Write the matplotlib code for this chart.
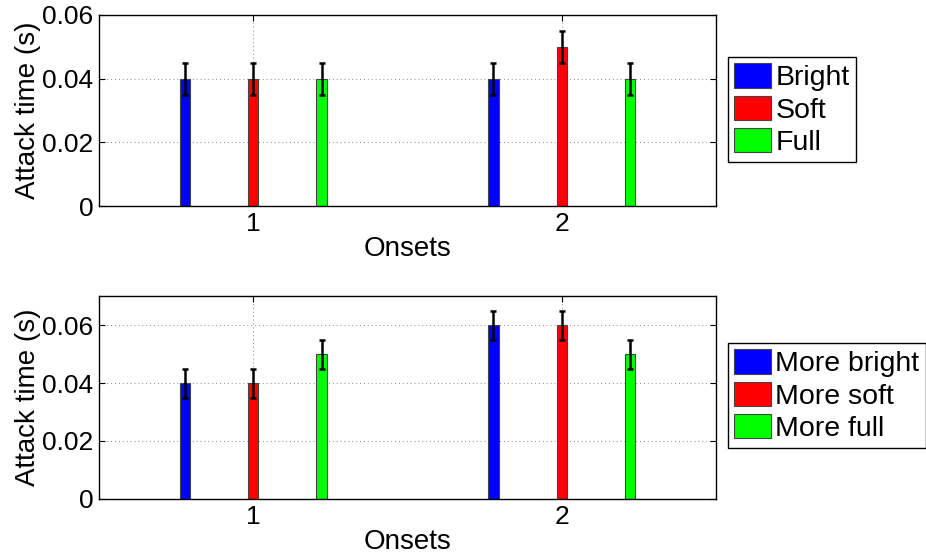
import matplotlib
matplotlib.use("Agg")
import matplotlib.pyplot as plt
import numpy as np

plt.rcParams['font.family'] = ['Liberation Sans', 'DejaVu Sans']

onsets = [1, 2]
top_labels = ["Bright", "Soft", "Full"]
top_bright = [0.04, 0.04]
top_soft = [0.04, 0.05]
top_full = [0.04, 0.04]
top_err = [0.005, 0.005]

bot_labels = ["More bright", "More soft", "More full"]
bot_bright = [0.04, 0.06]
bot_soft = [0.04, 0.06]
bot_full = [0.05, 0.05]
bot_err = [0.005, 0.005]

top_yticks = [0, 0.02, 0.04, 0.06]
top_yticklabels = ["0", "0.02", "0.04", "0.06"]
bot_yticks = [0, 0.02, 0.04, 0.06]
bot_yticklabels = ["0", "0.02", "0.04", "0.06"]

colors = ["#0000ff", "#ff0000", "#00ff00"]
offsets = [-0.222, 0.0, 0.222]
width = 0.034
FS_TICK = 19
FS_LAB = 20
FS_LEG = 20.5

W, H = 926, 560
fig = plt.figure(figsize=(W / 100, H / 100), dpi=100)

def px_axes(l, t, r, b):
    return fig.add_axes([l / W, 1 - b / H, (r - l) / W, (b - t) / H])

ax1 = px_axes(99, 15, 716, 206)
ax2 = px_axes(99, 296, 716, 499)

def draw(ax, series, labels, err, ylim, yticks, yticklabels, leg_y):
    x = np.array(onsets, dtype=float)
    handles = []
    for vals, c, off, lab in zip(series, colors, offsets, labels):
        h = ax.bar(x + off, vals, width=width, color=c, edgecolor="#444444",
                   linewidth=0.8, label=lab, zorder=3)
        ax.errorbar(x + off, vals, yerr=err, fmt='none', ecolor='black',
                    elinewidth=1.8, capsize=2.4, capthick=1.8, zorder=4)
        handles.append(h)
    ax.set_xlim(0.5, 2.5)
    ax.set_ylim(*ylim)
    ax.set_xticks(onsets)
    ax.set_xticklabels([str(o) for o in onsets])
    ax.set_yticks(yticks)
    ax.set_yticklabels(yticklabels)
    ax.tick_params(direction='in', length=4, width=0.8, top=True, right=True,
                   labelsize=FS_TICK, pad=4)
    ax.grid(True, linestyle=(0, (1, 3)), color='#888888', linewidth=0.7, zorder=0)
    for s in ax.spines.values():
        s.set_linewidth(1.0)
        s.set_zorder(5)
    ax.set_xlabel("Onsets", fontsize=FS_LAB, labelpad=0)
    ax.set_ylabel("Attack time (s)", fontsize=FS_LAB, labelpad=1)
    leg = ax.legend(handles=handles, loc='upper left', bbox_to_anchor=(1.019, leg_y),
                    borderaxespad=0, fontsize=FS_LEG, fancybox=False, framealpha=1,
                    edgecolor='black', handlelength=1.3, handleheight=0.94,
                    handletextpad=0.15, labelspacing=0.15, borderpad=0.22)
    leg.get_frame().set_linewidth(1.0)

draw(ax1, [top_bright, top_soft, top_full], top_labels, top_err, (0, 0.06),
     top_yticks, top_yticklabels, 0.78)
draw(ax2, [bot_bright, bot_soft, bot_full], bot_labels, bot_err, (0, 0.07),
     bot_yticks, bot_yticklabels, 0.768)

fig.savefig("out.png", dpi=100)
